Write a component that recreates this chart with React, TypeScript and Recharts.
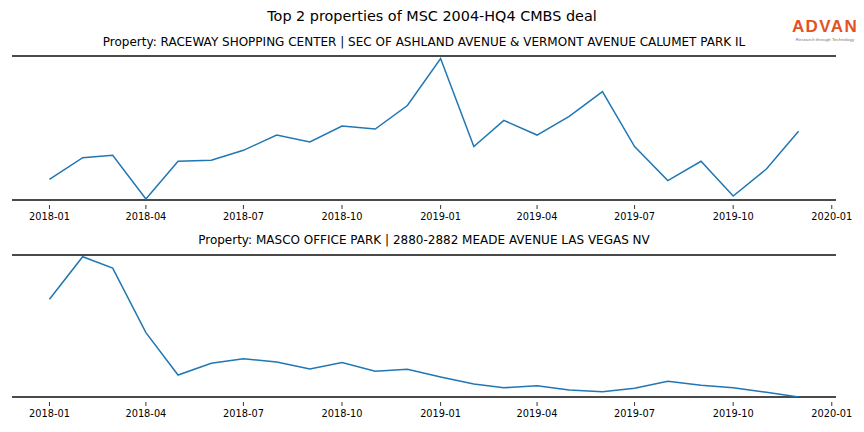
import React from 'react';
import { LineChart, Line, XAxis, YAxis, ReferenceLine } from 'recharts';

const months = [
  '2018-01', '2018-02', '2018-03', '2018-04', '2018-05', '2018-06',
  '2018-07', '2018-08', '2018-09', '2018-10', '2018-11', '2018-12',
  '2019-01', '2019-02', '2019-03', '2019-04', '2019-05', '2019-06',
  '2019-07', '2019-08', '2019-09', '2019-10', '2019-11', '2019-12',
];

// relative visit index (0 = bottom rule, 100 = top rule)
const raceway = [
  14.4, 29.4, 31.0, 0.7, 26.9, 27.6, 34.5, 45.1, 40.3, 51.4, 49.3, 65.6,
  98.2, 37.1, 55.3, 45.1, 58.1, 75.3, 37.1, 13.5, 26.9, 2.8, 21.5, 47.7,
];

const masco = [
  68.8, 98.8, 90.8, 45.3, 15.5, 23.7, 27.0, 24.6, 19.7, 24.2, 18.1, 19.5,
  14.1, 9.2, 6.5, 8.0, 4.9, 3.7, 6.1, 11.1, 8.2, 6.5, 3.3, 0,
];

const tickLabels = [
  '2018-01', '2018-04', '2018-07', '2018-10',
  '2019-01', '2019-04', '2019-07', '2019-10', '2020-01',
];

const toTime = (s: string) => {
  const [y, m] = s.split('-').map(Number);
  return Date.UTC(y, m - 1, 1);
};

const ticks = tickLabels.map(toTime);
const times = months.map(toTime);
const span = times[times.length - 1] - times[0];
const xDomain = [times[0] - span * 0.05, times[times.length - 1] + span * 0.05];

const fmt = (t: number) => {
  const d = new Date(t);
  return `${d.getUTCFullYear()}-${String(d.getUTCMonth() + 1).padStart(2, '0')}`;
};

const FONT = '"DejaVu Sans", sans-serif';
const RULE = '#4a4a4a';

const DateTick = (props: any) => {
  const { x, y, payload } = props;
  return (
    <g>
      <line x1={x} x2={x} y1={y + 5} y2={y + 9} stroke="#000" strokeWidth={0.8} />
      <text x={x} y={y + 16} textAnchor="middle" dominantBaseline="central"
        fontFamily={FONT} fontSize={9.8} fill="#000">
        {fmt(payload.value)}
      </text>
    </g>
  );
};

const Panel = ({ values, top, height, marginTop }: any) => {
  const data = times.map((t, i) => ({ t, v: values[i] }));
  return (
    <div style={{ position: 'absolute', left: 0, top }}>
      <LineChart width={864} height={height} data={data}
        margin={{ top: marginTop, right: 28, bottom: 0, left: 12 }}>
        <XAxis dataKey="t" type="number" domain={xDomain} allowDataOverflow
          ticks={ticks} tick={<DateTick />} axisLine={false} tickLine={false}
          tickSize={0} tickMargin={0} height={25} interval={0} />
        <YAxis hide domain={[0, 100]} allowDataOverflow />
        <ReferenceLine y={100} stroke={RULE} strokeWidth={1.8} />
        <ReferenceLine y={0} stroke={RULE} strokeWidth={1.8} />
        <Line type="linear" dataKey="v" stroke="#1f77b4" strokeWidth={1.5}
          dot={false} isAnimationActive={false} />
      </LineChart>
    </div>
  );
};

const titleStyle: React.CSSProperties = {
  position: 'absolute', left: 12, width: 824, textAlign: 'center',
  fontFamily: FONT, color: '#000', whiteSpace: 'nowrap', lineHeight: 1,
};

export default function App() {
  return (
    <div style={{ position: 'absolute', left: 0, top: 0, width: 864, height: 432, background: '#fff', overflow: 'hidden' }}>
      <div style={{ ...titleStyle, left: 0, width: 864, top: 9, fontSize: 14.4 }}>
        Top 2 properties of MSC 2004-HQ4 CMBS deal
      </div>
      <div style={{ ...titleStyle, top: 36, fontSize: 12 }}>
        Property: RACEWAY SHOPPING CENTER | SEC OF ASHLAND AVENUE &amp; VERMONT AVENUE CALUMET PARK IL
      </div>
      <div style={{ ...titleStyle, top: 234, fontSize: 12 }}>
        Property: MASCO OFFICE PARK | 2880-2882 MEADE AVENUE LAS VEGAS NV
      </div>
      <div style={{ position: 'absolute', left: 791, top: 18, width: 68, textAlign: 'center' }}>
        <div style={{ fontFamily: '"Liberation Sans", Arial, sans-serif', fontWeight: 700, fontSize: 17, color: '#e2531f', letterSpacing: 1.4, lineHeight: 1 }}>
          ADVAN
        </div>
        <div style={{ fontFamily: '"Liberation Sans", Arial, sans-serif', fontSize: 4.4, color: '#777', lineHeight: 1, marginTop: 3, whiteSpace: 'nowrap' }}>
          Research through Technology
        </div>
      </div>
      <Panel values={raceway} top={0} height={225} marginTop={56} />
      <Panel values={masco} top={220} height={202} marginTop={35} />
    </div>
  );
}
